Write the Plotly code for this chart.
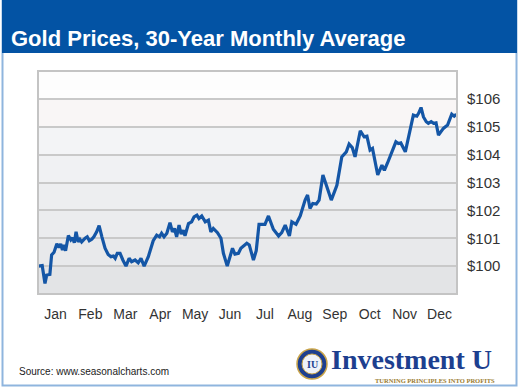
import plotly.graph_objects as go

# ---- data ----
month_labels = ["Jan", "Feb", "Mar", "Apr", "May", "Jun", "Jul", "Aug", "Sep", "Oct", "Nov", "Dec"]
price_labels = ["$100", "$101", "$102", "$103", "$104", "$105", "$106"]
price_ticks = [100, 101, 102, 103, 104, 105, 106]

# x position in months since Jan 1 (0..12)
month_pos = [0.01, 0.12, 0.20, 0.25, 0.34, 0.39, 0.46, 0.54, 0.60, 0.65, 0.70, 0.74, 0.79, 0.87, 0.94,
             0.99, 1.04, 1.09, 1.15, 1.20, 1.25, 1.30, 1.35, 1.41, 1.47, 1.54, 1.60, 1.68, 1.75, 1.83,
             1.92, 2.01, 2.09, 2.16, 2.21, 2.27, 2.35, 2.43, 2.52, 2.61, 2.68, 2.78, 2.87, 2.95, 3.04,
             3.16, 3.30, 3.40, 3.48, 3.54, 3.61, 3.69, 3.78, 3.85, 3.91, 3.97, 4.04, 4.10, 4.16, 4.21,
             4.31, 4.40, 4.47, 4.55, 4.61, 4.69, 4.79, 4.88, 4.95, 5.02, 5.14, 5.24, 5.31, 5.42, 5.52,
             5.57, 5.64, 5.74, 5.81, 5.90, 5.98, 6.05, 6.17, 6.25, 6.33, 6.50, 6.60, 6.74, 6.89, 6.98,
             7.08, 7.20, 7.27, 7.39, 7.51, 7.65, 7.72, 7.79, 7.87, 7.97, 8.05, 8.16, 8.27, 8.40, 8.56,
             8.70, 8.83, 8.91, 9.00, 9.08, 9.23, 9.34, 9.42, 9.51, 9.58, 9.73, 9.85, 9.92, 10.01, 10.13,
             10.25, 10.32, 10.39, 10.52, 10.64, 10.75, 10.85, 10.90, 10.97, 11.04, 11.12, 11.18, 11.26,
             11.33, 11.40, 11.47, 11.61, 11.73, 11.85, 11.92, 11.98]
price = [100.00, 100.02, 99.38, 99.68, 99.70, 100.40, 100.50, 100.80, 100.67, 100.80, 100.58, 100.76,
         100.55, 101.10, 100.94, 101.02, 100.84, 101.23, 100.87, 100.96, 100.87, 100.94, 101.00, 101.05,
         100.91, 100.96, 101.05, 101.23, 101.45, 101.05, 100.64, 100.42, 100.34, 100.36, 100.28, 100.46,
         100.46, 100.22, 100.00, 100.28, 100.16, 100.22, 100.12, 100.28, 100.00, 100.34, 100.91, 101.11,
         101.05, 101.18, 101.05, 101.18, 101.56, 101.23, 101.35, 101.05, 101.47, 101.15, 101.29, 101.09,
         101.53, 101.59, 101.77, 101.83, 101.71, 101.80, 101.59, 101.65, 101.23, 101.35, 101.20, 101.00,
         100.46, 100.00, 100.40, 100.64, 100.43, 100.46, 100.64, 100.72, 100.82, 100.76, 100.22, 100.55,
         101.50, 101.50, 101.80, 101.32, 101.08, 101.20, 101.47, 101.08, 101.59, 101.50, 101.80, 102.37,
         102.55, 102.07, 102.25, 102.23, 102.37, 103.27, 102.82, 102.37, 102.90, 103.92, 104.10, 104.38,
         104.25, 103.92, 104.85, 104.64, 104.66, 104.16, 104.22, 103.27, 103.62, 103.44, 103.70, 104.10,
         104.46, 104.40, 104.42, 104.10, 104.76, 105.42, 105.38, 105.48, 105.69, 105.35, 105.18, 105.12,
         105.18, 105.12, 105.14, 104.70, 104.94, 105.06, 105.45, 105.38, 105.45]

band_edges = [99, 100, 101, 102, 103, 104, 105, 106, 107]
band_colors = ["#e3e4e6", "#e8e9eb", "#ebecee", "#edeef0", "#f0f1f3", "#f3f4f6", "#f9f6f6", "#fdfdfd"]

# ---- geometry (pixels) ----
W, H = 520, 388
L, R, T, B = 38, 457, 71, 294
PW, PH = R - L, B - T


def px(x):
    return (x - L) / PW


def py(y):
    return (B - y) / PH


fig = go.Figure()
fig.add_trace(go.Scatter(x=month_pos, y=price, mode="lines",
                         line=dict(color="#1456a6", width=3.2), hoverinfo="skip"))

shapes = []
for i, c in enumerate(band_colors):
    shapes.append(dict(type="rect", xref="paper", yref="y", x0=0, x1=1,
                       y0=band_edges[i], y1=band_edges[i + 1], fillcolor=c,
                       line=dict(width=0), layer="below"))
# plot frame
shapes.append(dict(type="rect", xref="paper", yref="paper", x0=0, x1=1, y0=0, y1=1,
                   line=dict(color="#c4c4c4", width=2), layer="above"))
# outer border
shapes.append(dict(type="rect", xref="paper", yref="paper", x0=px(2.5), x1=px(516.5),
                   y0=py(385.5), y1=py(1), line=dict(color="#8fb5de", width=2)))
# title bar
shapes.append(dict(type="rect", xref="paper", yref="paper", x0=px(2), x1=px(517),
                   y0=py(53), y1=py(0), fillcolor="#0353a4", line=dict(width=0)))
# logo emblem
cx, cy, r = 312, 364, 15
shapes.append(dict(type="circle", xref="paper", yref="paper", x0=px(cx - r), x1=px(cx + r),
                   y0=py(cy + r), y1=py(cy - r), fillcolor="#1d3f8f", line=dict(color="#c9a44a", width=1.5)))
r2 = 10
shapes.append(dict(type="circle", xref="paper", yref="paper", x0=px(cx - r2), x1=px(cx + r2),
                   y0=py(cy + r2), y1=py(cy - r2), fillcolor="#eef2fa", line=dict(color="#c9a44a", width=1)))

annotations = [
    dict(text="Gold Prices, 30-Year Monthly Average", xref="paper", yref="paper",
         x=px(9), y=py(38), xanchor="left", yanchor="middle", showarrow=False,
         font=dict(family="Liberation Sans", size=22, color="white", weight="bold")),
    dict(text="Source: www.seasonalcharts.com", xref="paper", yref="paper",
         x=px(17), y=py(371), xanchor="left", yanchor="middle", showarrow=False,
         font=dict(family="Liberation Sans", size=10, color="#222222")),
    dict(text="Investment U", xref="paper", yref="paper",
         x=px(329), y=py(359), xanchor="left", yanchor="middle", showarrow=False,
         font=dict(family="Liberation Serif", size=28, color="#1d3f8f", weight="bold")),
    dict(text="TURNING PRINCIPLES INTO PROFITS", xref="paper", yref="paper",
         x=px(497), y=py(380), xanchor="right", yanchor="middle", showarrow=False,
         font=dict(family="Liberation Serif", size=6.5, color="#9b7b2f", weight="bold")),
    dict(text="IU", xref="paper", yref="paper",
         x=px(cx), y=py(cy), xanchor="center", yanchor="middle", showarrow=False,
         font=dict(family="Liberation Serif", size=10, color="#1d3f8f", weight="bold")),
]

fig.update_layout(
    width=W, height=H,
    margin=dict(l=L, r=W - R, t=T, b=H - B, pad=0),
    paper_bgcolor="white", plot_bgcolor="#eeeeee",
    showlegend=False,
    shapes=shapes, annotations=annotations,
    xaxis=dict(range=[0, 12], tickvals=[i + 0.5 for i in range(12)], ticktext=month_labels,
               showgrid=False, zeroline=False, ticks="", showline=False,
               tickfont=dict(family="Liberation Sans", size=14, color="#333333"),
               ticklabelstandoff=10, fixedrange=True),
    yaxis=dict(range=[99, 107], side="right", tickvals=price_ticks, ticktext=price_labels,
               showgrid=True, gridcolor="#c9c9c9", gridwidth=1.5, zeroline=False, ticks="",
               tickfont=dict(family="Liberation Sans", size=15, color="#333333"),
               ticklabelstandoff=9, fixedrange=True),
)

fig.write_html("out.html", config={"displayModeBar": False},
               post_script="document.body.style.margin='0';document.body.style.overflow='hidden';")
